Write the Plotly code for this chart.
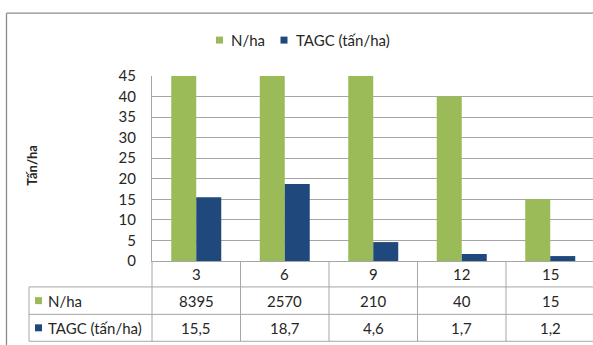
import plotly.graph_objects as go

# Data: stand age classes, tree density and above-ground carbon
categories = ["3", "6", "9", "12", "15"]
n_per_ha = [8395, 2570, 210, 40, 15]
tagc = [15.5, 18.7, 4.6, 1.7, 1.2]
series_names = ["N/ha", "TAGC (tấn/ha)"]
y_ticks = [0, 5, 10, 15, 20, 25, 30, 35, 40, 45]
y_title = "Tấn/ha"

GREEN = "#9BBB59"
BLUE = "#1F497D"
GRID = "#A6A6A6"
TEXT = "#262626"
FONT = "Lato"

W, H = 593, 345
L, R, T, B = 152, 0, 76, 83.5
PW, PH = W - L - R, H - T - B
CAT_W = 88.5  # pixel width of one category column


def px_x(x):
    return (x - L) / PW


def px_y(y):
    return (H - B - y) / PH


def square(cx, cy, color, size=7):
    """Small legend key drawn in pixel coordinates."""
    h = size / 2
    return dict(type="rect", xref="paper", yref="paper",
                x0=px_x(cx - h), x1=px_x(cx + h), y0=px_y(cy + h), y1=px_y(cy - h),
                fillcolor=color, line=dict(width=0))


fig = go.Figure()
fig.add_bar(x=categories, y=n_per_ha, name=series_names[0],
            marker=dict(color=GREEN, line=dict(width=0)))
fig.add_bar(x=categories, y=tagc, name=series_names[1],
            marker=dict(color=BLUE, line=dict(width=0)))

annotations = []
shapes = []
txt_font = dict(size=15, color=TEXT, family=FONT)

# y-axis title
annotations.append(dict(text=f"<b>{y_title}</b>", x=px_x(32), y=px_y(165),
                        xref="paper", yref="paper", textangle=-90,
                        xanchor="center", yanchor="middle",
                        showarrow=False, font=dict(size=13, color=TEXT, family=FONT)))

# top legend
leg_y = 40
shapes.append(square(219.5, leg_y, GREEN))
annotations.append(dict(text=series_names[0], x=px_x(229), y=px_y(leg_y), xref="paper", yref="paper",
                        xanchor="left", yanchor="middle", showarrow=False, font=txt_font))
shapes.append(square(284, leg_y, BLUE))
annotations.append(dict(text=series_names[1], x=px_x(294), y=px_y(leg_y), xref="paper", yref="paper",
                        xanchor="left", yanchor="middle", showarrow=False, font=txt_font))

# data table below the axis
row_lines = [287.5, 315, 342]
header_y = (261.5 + 287.5) / 2
row_ys = [(287.5 + 315) / 2, (315 + 342) / 2]
fmt_n = [f"{v}" for v in n_per_ha]
fmt_t = [f"{v:.1f}".replace(".", ",") for v in tagc]

for i, c in enumerate(categories):
    for text, yy in ((c, header_y), (fmt_n[i], row_ys[0]), (fmt_t[i], row_ys[1])):
        annotations.append(dict(text=text, x=i, y=px_y(yy), xref="x", yref="paper",
                                xanchor="center", yanchor="middle",
                                showarrow=False, font=txt_font))

for name, color, yy in zip(series_names, [GREEN, BLUE], row_ys):
    shapes.append(square(38.5, yy, color))
    annotations.append(dict(text=name, x=px_x(46), y=px_y(yy), xref="paper", yref="paper",
                            xanchor="left", yanchor="middle", showarrow=False, font=txt_font))

# table grid
for yl in row_lines:
    shapes.append(dict(type="line", xref="paper", yref="paper", x0=px_x(29), x1=1.05,
                       y0=px_y(yl), y1=px_y(yl), line=dict(color=GRID, width=1)))
shapes.append(dict(type="line", xref="paper", yref="paper", x0=px_x(29), x1=px_x(29),
                   y0=px_y(287.5), y1=px_y(342), line=dict(color=GRID, width=1)))
shapes.append(dict(type="line", xref="paper", yref="paper", x0=0, x1=0,
                   y0=0, y1=px_y(342), line=dict(color=GRID, width=1)))
for i in range(1, len(categories)):
    shapes.append(dict(type="line", xref="x", yref="paper", x0=i - 0.5, x1=i - 0.5,
                       y0=0, y1=px_y(342), line=dict(color=GRID, width=1)))

# outer chart frame
shapes.append(dict(type="line", xref="paper", yref="paper", x0=px_x(6.5), x1=px_x(6.5),
                   y0=px_y(13), y1=px_y(H + 5), line=dict(color="#8C8C8C", width=1.3)))
shapes.append(dict(type="line", xref="paper", yref="paper", x0=px_x(6.5), x1=1.05,
                   y0=px_y(13), y1=px_y(13), line=dict(color="#8C8C8C", width=1.3)))

fig.update_layout(
    width=W, height=H,
    margin=dict(l=L, r=R, t=T, b=B, pad=0),
    paper_bgcolor="white", plot_bgcolor="white",
    barmode="group", bargap=1 - 50 / CAT_W, bargroupgap=0,
    showlegend=False,
    font=dict(family=FONT, color=TEXT),
    annotations=annotations, shapes=shapes,
    xaxis=dict(type="category", range=[-0.5, -0.5 + PW / CAT_W], showticklabels=False,
               showgrid=False, showline=True, linecolor=GRID, linewidth=1, ticks="",
               zeroline=False, fixedrange=True),
    yaxis=dict(range=[0, 45], tickvals=y_ticks, showgrid=True, gridcolor=GRID, gridwidth=1,
               showline=True, linecolor=GRID, linewidth=1, mirror=False, zeroline=False,
               ticks="", ticklabelstandoff=12, tickfont=dict(size=15, color=TEXT, family=FONT),
               fixedrange=True),
)

fig.write_html("out.html")
